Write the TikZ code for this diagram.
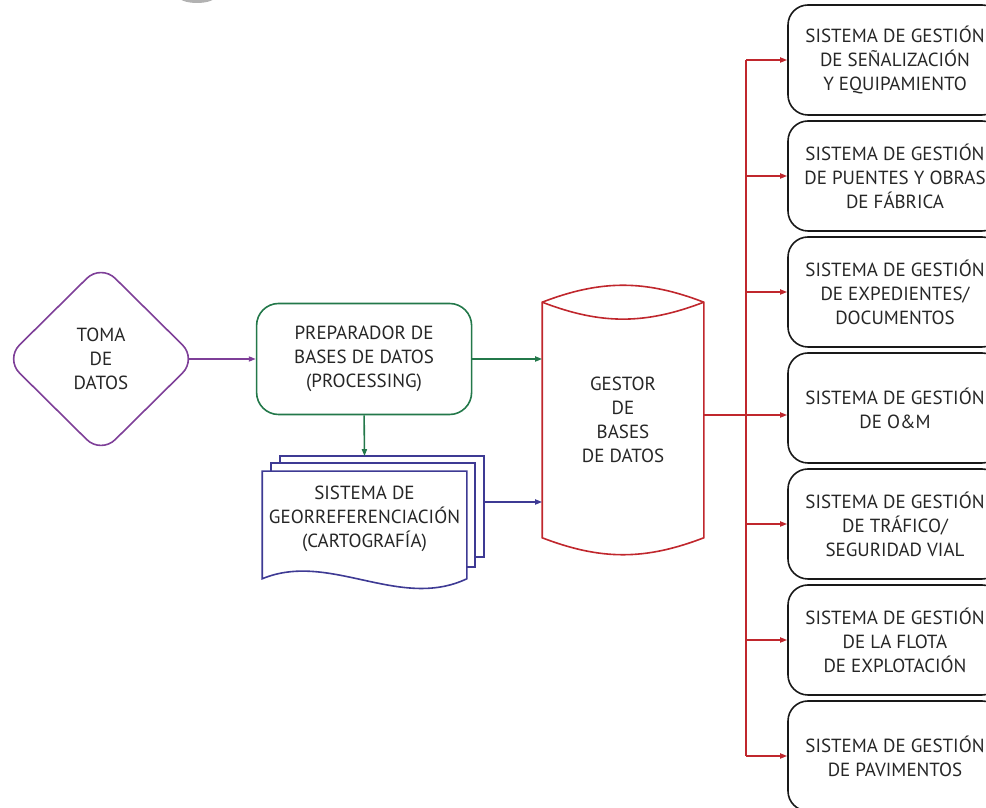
\documentclass[tikz,border=0pt]{standalone}
\usepackage{fontspec}
\setmainfont{PT Sans}
\usepackage{tikz}
\usetikzlibrary{arrows.meta,positioning,shapes.geometric}
\definecolor{tomacol}{HTML}{7E3F98}
\definecolor{prepcol}{HTML}{23784A}
\definecolor{cartocol}{HTML}{3E3A94}
\definecolor{gestcol}{HTML}{C0272D}

\begin{document}
\begin{tikzpicture}[x=1pt,y=1pt,>={Triangle[length=7pt,width=5pt]},line width=1.6pt,
                    node distance=4.4pt,font=\fontsize{19}{24}\selectfont]
  \tikzstyle{every node}=[align=center,text=black!85]
  \tikzstyle{sistema}=[draw=black!90,rounded corners=20pt,minimum width=214pt,minimum height=110pt]
  \tikzstyle{hoja}=[draw=cartocol,fill=white]

  \useasboundingbox (0,0) rectangle (986,808);
  \clip (0,0) rectangle (986,808);
  \fill[black!30] (197,812) ellipse (19 and 7);

  \node[diamond,draw=tomacol,rounded corners=20pt,minimum width=192pt,minimum height=190pt,inner sep=0pt]
                                  (T) at (101,449)  {TOMA\\DE\\DATOS};
  \node[draw=prepcol,rounded corners=22pt,minimum width=215pt,minimum height=111pt]
                                  (P) [right=58pt of T] {PREPARADOR DE\\BASES DE DATOS\\(PROCESSING)};
  \node[minimum width=203pt,minimum height=94pt,inner sep=0pt]
                                  (C) at (364.5,289) {};
  \node[minimum width=160pt,minimum height=234pt]
                                  (G) at (623,388)  {};

  % hojas de la cartografia
  \draw[hoja] ([shift={(18,15)}]C.north west) rectangle ([shift={(17,10)}]C.south east);
  \draw[hoja] ([shift={(9,8)}]C.north west) rectangle ([shift={(8,0)}]C.south east);
  \draw[hoja] (C.north west) -- ([yshift=-12]C.south west)
        .. controls ([shift={(67,16)}]C.south west) and ([shift={(137,-44)}]C.south west) ..
        ([yshift=-12]C.south east) -- (C.north east) -- cycle;
  \node at (C) {SISTEMA DE\\GEORREFERENCIACIÓN\\(CARTOGRAFÍA)};

  % cilindro
  \draw[gestcol] (G.north west) to[bend left=21] (G.north east) -- (G.south east)
        to[bend left=21] (G.south west) -- cycle;
  \draw[gestcol] (G.north west) to[bend right=21] (G.north east);
  \node at (G) {GESTOR\\DE\\BASES\\DE DATOS};

  \node[sistema] (S1) at (895,748) {SISTEMA DE GESTIÓN\\DE SEÑALIZACIÓN\\Y EQUIPAMIENTO};
  \node[sistema] (S2) [below=of S1] {SISTEMA DE GESTIÓN\\DE PUENTES Y OBRAS\\DE FÁBRICA};
  \node[sistema] (S3) [below=of S2] {SISTEMA DE GESTIÓN\\DE EXPEDIENTES/\\DOCUMENTOS};
  \node[sistema] (S4) [below=of S3] {SISTEMA DE GESTIÓN\\DE O\&M};
  \node[sistema] (S5) [below=of S4] {SISTEMA DE GESTIÓN\\DE TRÁFICO/\\SEGURIDAD VIAL};
  \node[sistema] (S6) [below=of S5] {SISTEMA DE GESTIÓN\\DE LA FLOTA\\DE EXPLOTACIÓN};
  \node[sistema] (S7) [below=of S6] {SISTEMA DE GESTIÓN\\DE PAVIMENTOS};

  \coordinate (Cin)  at ([yshift=15]C.north);
  \coordinate (Cout) at ([shift={(17,17)}]C.east);
  \coordinate (B)    at (746,393);

  \draw[tomacol,->]  ([xshift=-10]T.east) -- (P.west);
  \draw[prepcol,->]  (P.east) -- (P.east -| G.west);
  \draw[prepcol,->]  (P.south) -- (Cin);
  \draw[cartocol,->] (Cout) -- (Cout -| G.west);

  \draw[gestcol] (G.east |- B) -- (B);
  \draw[gestcol] (B |- S1.west) -- (B |- S7.west);
  \draw[gestcol,->] (B |- S1.west) -- (S1);
  \draw[gestcol,->] (B |- S2.west) -- (S2);
  \draw[gestcol,->] (B |- S3.west) -- (S3);
  \draw[gestcol,->] (B) -- (B -| S4.west);
  \draw[gestcol,->] (B |- S5.west) -- (S5);
  \draw[gestcol,->] (B |- S6.west) -- (S6);
  \draw[gestcol,->] (B |- S7.west) -- (S7);
\end{tikzpicture}
\end{document}
